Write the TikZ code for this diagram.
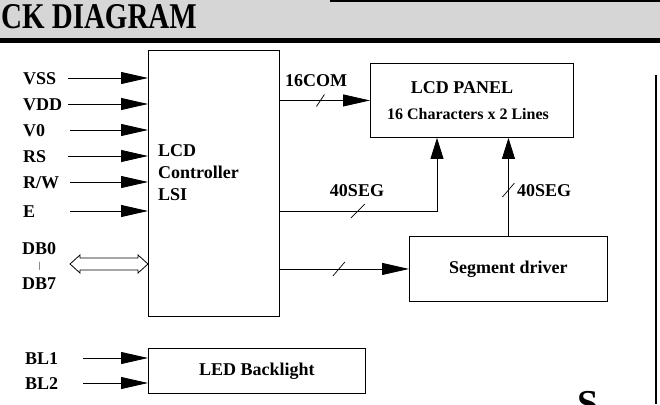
\documentclass[tikz,border=0pt]{standalone}
\usepackage{fontspec}
\setmainfont{Liberation Serif}
\usetikzlibrary{arrows.meta,calc}
\begin{document}
\begin{tikzpicture}[x=1pt,y=-1pt,
  lbl/.style={font=\fontsize{18}{22}\selectfont\bfseries, inner sep=0pt},
  inl/.style={lbl, anchor=west, text height=12pt, text depth=0pt},
  box/.style={draw, line width=0.9pt, inner sep=0pt},
  ln/.style={line width=0.8pt},
  arr/.style={ln, -{Triangle[length=27pt,width=12pt]}},
  varr/.style={ln, -{Triangle[length=21pt,width=13pt]}},
  slash/.style={line width=0.7pt},
]
\useasboundingbox (0,0) rectangle (660,404);
\clip (0,0) rectangle (660,404);
% header band
\fill[gray!32] (0,0) rectangle (660,38);
\draw[line width=5pt] (0,40.5) -- (660,40.5);
\draw[line width=2pt] (330,1) -- (660,1);
\node[anchor=base east, inner sep=0pt] (title) at (197,29)
  {\scalebox{1}[1.25]{\fontsize{29}{30}\selectfont\bfseries BLOCK DIAGRAM}};
% right border
\draw[line width=1.8pt] (656,75) -- (656,404);
% boxes
\node[box, anchor=north west, minimum width=131pt, minimum height=266pt] (ctrl) at (148,50) {};
\node[lbl, anchor=west, align=left] (ctrltxt) at (158,173) {LCD\\Controller\\LSI};
\node[box, anchor=north west, minimum width=203pt, minimum height=74pt] (panel) at (370,63) {};
\node[lbl] (paneltxt1) at (462,88) {LCD PANEL};
\node[lbl, font=\fontsize{16}{18}\selectfont\bfseries] (paneltxt2) at (468,114) {16 Characters x 2 Lines};
\node[box, lbl, anchor=north west, minimum width=198pt, minimum height=65pt] (seg) at (409,236) {Segment driver};
\node[box, lbl, anchor=north west, minimum width=217pt, minimum height=45pt] (led) at (148,348) {LED Backlight};
% inputs
\foreach \nm/\tx/\yy/\xs in {vss/VSS/78/68, vdd/VDD/104/68, vo/V0/130/70, rs/RS/156/68, rw/R\slash W/182/70, e/E/211/70}{
  \node[inl] (l\nm) at (23,\yy) {\tx};
  \coordinate (s\nm) at (\xs,\yy);
  \draw[arr] (s\nm) -- (s\nm -| ctrl.west);
}
% data bus
\node[inl] (ldb0) at (22,248) {DB0};
\node[inl, font=\fontsize{9}{9}\selectfont, text height=6pt] (ldbbar) at (38.5,265) {|};
\node[inl] (ldb7) at (22,283) {DB7};
\coordinate (dbL) at (70,264);
\coordinate (dbR) at (dbL -| ctrl.west);
\draw[ln, fill=white, line join=miter] (dbL) -- ++(10,-9) -- ++(0,3) -- ($(dbR)+(-10,-6)$) -- ++(0,-3) -- (dbR)
  -- ++(-10,9) -- ++(0,-3) -- ($(dbL)+(10,6)$) -- ++(0,3) -- cycle;
% backlight
\node[inl] (lbl1) at (25,358) {BL1};
\node[inl] (lbl2) at (25,383) {BL2};
\coordinate (sbl1) at (83,358);
\coordinate (sbl2) at (83,383);
\draw[arr] (sbl1) -- (sbl1 -| led.west);
\draw[arr] (sbl2) -- (sbl2 -| led.west);
% 16COM
\draw[arr] (panel.west -| ctrl.east) -- coordinate[pos=0.45] (t1) (panel.west);
\draw[slash] ($(t1)+(-4,6)$) -- ($(t1)+(4,-6)$);
\node[inl] (l16com) at (285,80) {16COM};
% 40SEG to panel
\coordinate (pin1) at ($(panel.south west)+(67,0)$);
\draw[varr] (ctrl.east |- se) -- (pin1 |- se) -- (pin1);
\coordinate (t2b) at ($(ctrl.east |- se)+(78,0)$);
\draw[slash] ($(t2b)+(-7,7)$) -- ($(t2b)+(7,-7)$);
\node[lbl] (l40a) at (357,191) {40SEG};
% segment driver to panel
\draw[varr] (seg.north) -- (seg.north |- panel.south);
\coordinate (t3) at ($(seg.north)+(0,-46)$);
\draw[slash] ($(t3)+(-6,7)$) -- ($(t3)+(6,-7)$);
\node[inl] (l40b) at (517,190) {40SEG};
% controller to segment driver
\draw[arr] (ctrl.east |- seg.west) -- (seg.west);
\coordinate (t4) at ($(ctrl.east |- seg.west)+(59,0)$);
\draw[slash] ($(t4)+(-6,7)$) -- ($(t4)+(6,-7)$);
% partial letter at bottom right
\node[anchor=base west, inner sep=0pt, font=\fontsize{38}{38}\selectfont\bfseries] (sletter) at (577,416) {S};
\end{tikzpicture}
\end{document}
